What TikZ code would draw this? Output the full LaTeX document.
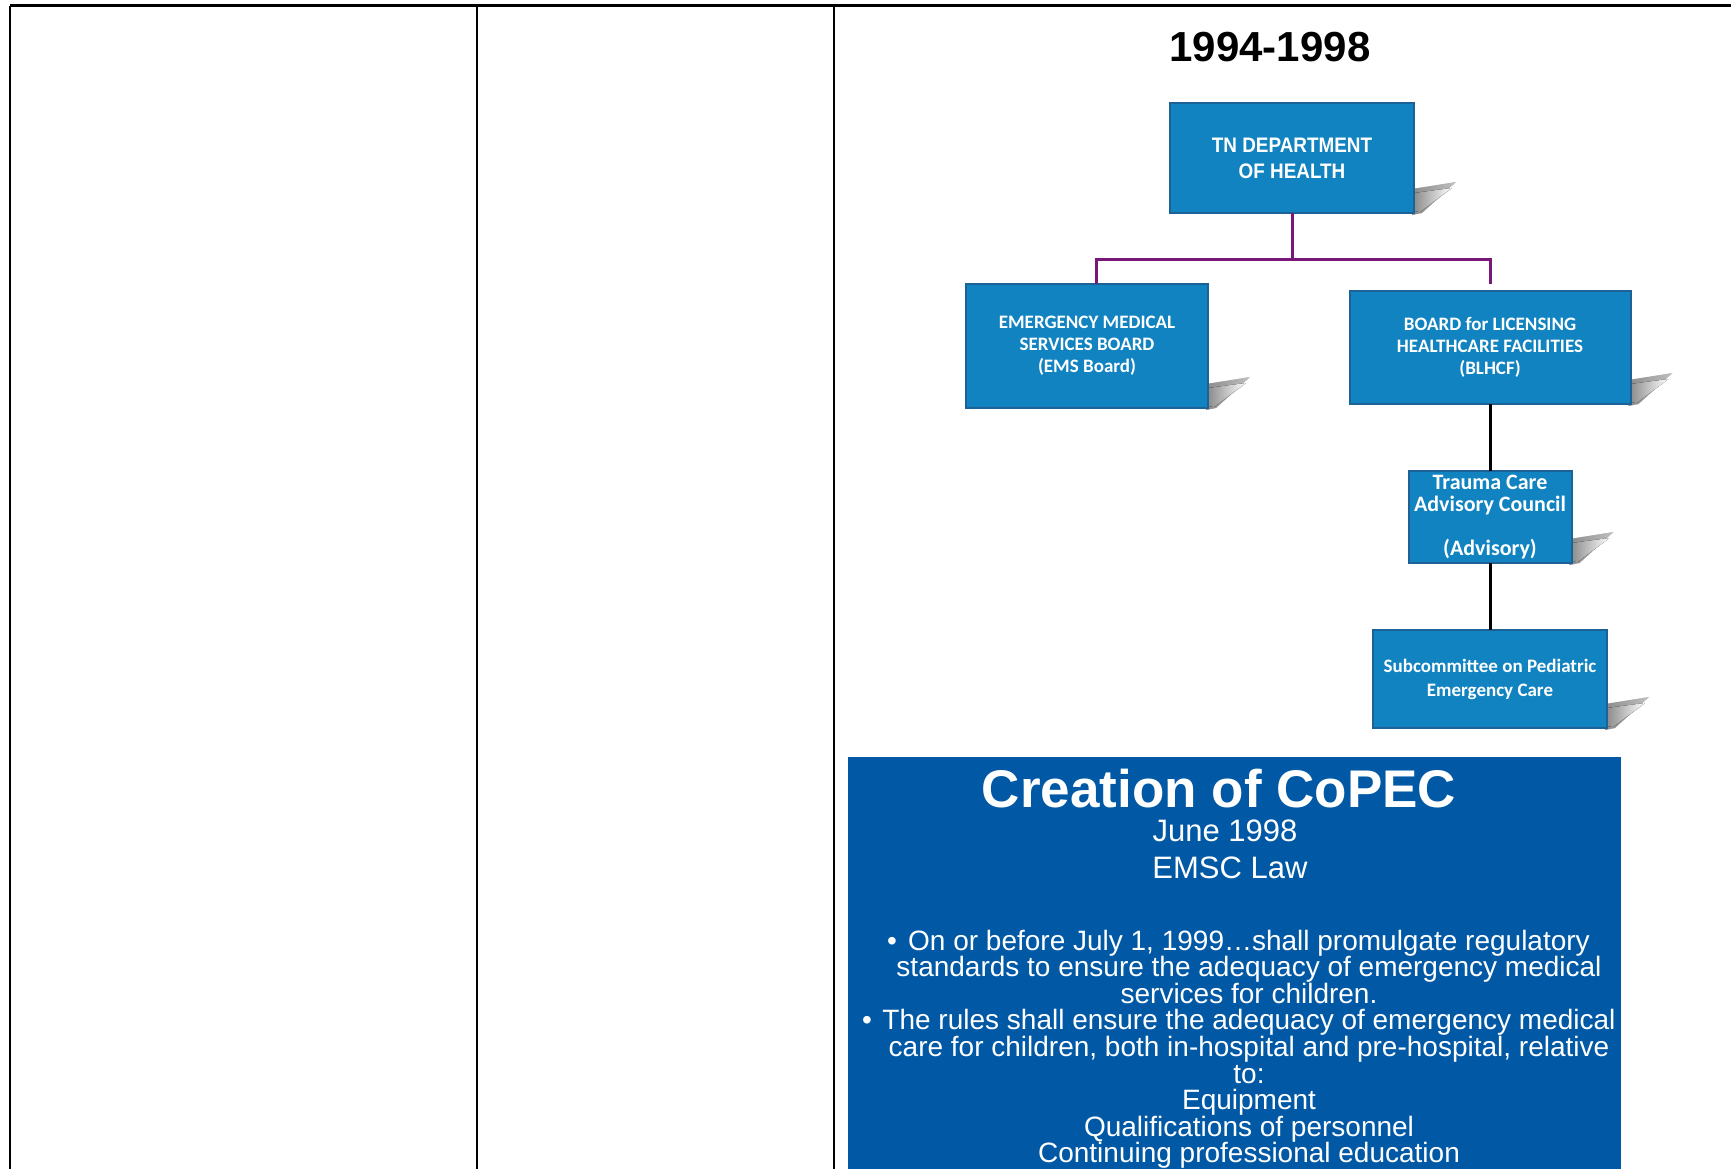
\documentclass[tikz,border=0pt]{standalone}
\usepackage{fontspec}
\setmainfont{Liberation Sans}
\newfontfamily\calfont{Carlito}
\newfontfamily\condfont{Liberation Sans}[FakeStretch=0.9]
\usetikzlibrary{backgrounds}
\definecolor{boxblue}{RGB}{17,131,193}
\definecolor{boxedge}{RGB}{28,98,150}
\definecolor{copec}{RGB}{1,89,166}
\definecolor{purp}{RGB}{122,24,122}
\newcommand\boxshadow[1]{%
  \fill[shadowpoly, opacity=0.45] ([shift={(-2,-2)}]#1.south east) -- ++(0,26) -- ++(44,7) -- ++(-34,-31) -- cycle;
  \fill[shadowpoly] ([yshift=2pt]#1.south east) -- ++(0,18) -- ++(38,5) -- ++(-32,-24) -- cycle;}
\begin{document}
\begin{tikzpicture}[x=1pt,y=1pt,
  orgbox/.style={draw=boxedge, line width=2pt, fill=boxblue, text=white, align=center, inner sep=0pt, outer sep=0pt},
  shadowpoly/.style={left color=black!45, right color=white, draw=none},
  tline/.style={line width=2.5pt, black},
  pline/.style={line width=3pt, purp},
  bline/.style={line width=3pt, black},
  wtext/.style={text=white, inner sep=0pt, anchor=base},
  body/.style={wtext, font=\fontsize{28}{30}\selectfont},
]
\useasboundingbox (0,0) rectangle (1731,-1168);
\clip (0,0) rectangle (1731,-1168);

% table rules
\draw[tline] (10,-5.5) -- (1731,-5.5);
\draw[tline] (10,-5.5) -- (10,-1170);
\draw[tline] (477,-5.5) -- (477,-1170);
\draw[tline] (834,-5.5) -- (834,-1170);

% heading
\node[inner sep=0pt, anchor=base, font=\bfseries\fontsize{42}{48}\selectfont] (yr) at (1270,-61) {1994-1998};

% org chart boxes
\node[orgbox, minimum width=244, minimum height=110, font=\condfont\bfseries\fontsize{21}{26}\selectfont] (tn) at (1292,-158) {TN DEPARTMENT\\OF HEALTH};
\node[orgbox, minimum width=242, minimum height=124, font=\calfont\bfseries\fontsize{19}{22}\selectfont] (ems) at (1087,-346) {EMERGENCY MEDICAL\\SERVICES BOARD\\(EMS Board)};
\node[orgbox, minimum width=281, minimum height=113, font=\calfont\bfseries\fontsize{19}{22}\selectfont] (bl) at (1490,-347.5) {BOARD for LICENSING\\HEALTHCARE FACILITIES\\(BLHCF)};
\node[orgbox, minimum width=163, minimum height=92, font=\calfont\bfseries\fontsize{22}{22}\selectfont] (tr) at (1490,-517) {Trauma Care\\Advisory Council\\[22pt](Advisory)};
\node[orgbox, minimum width=234, minimum height=98, font=\calfont\bfseries\fontsize{19}{24}\selectfont] (sub) at (1490,-679) {Subcommittee on Pediatric\\Emergency Care};

\begin{scope}[on background layer]
\boxshadow{tn}
\boxshadow{ems}
\boxshadow{bl}
\boxshadow{tr}
\boxshadow{sub}
\end{scope}

% connectors
\draw[pline] (tn.south) -- ++(0,-46) coordinate (bus);
\draw[pline] ([xshift=9pt]ems.north) |- (bus) -| ([yshift=7pt]bl.north);
\draw[bline] (bl.south) -- (tr.north);
\draw[bline] (tr.south) -- (sub.north);

% CoPEC panel
\node[fill=copec, inner sep=0pt, anchor=north west, minimum width=773, minimum height=430] (panel) at (848,-757) {};
\node[wtext, font=\bfseries\fontsize{53}{60}\selectfont] (title) at (1219,-807) {Creation of CoPEC};
\node[wtext, font=\fontsize{31}{36}\selectfont] (date) at (1225,-841) {June 1998};
\node[wtext, font=\fontsize{31}{36}\selectfont] (law) at (1230,-878) {EMSC Law};

\node[body] (b1) at (1249,-950) {On or before July 1, 1999…shall promulgate regulatory};
\node[body] (b1dot) at (892,-950) {•};
\node[body] (b2) at (1249,-976.6) {standards to ensure the adequacy of emergency medical};
\node[body] (b3) at (1249,-1003.2) {services for children.};
\node[body] (b4) at (1249,-1029.8) {The rules shall ensure the adequacy of emergency medical};
\node[body] (b4dot) at (867,-1029.8) {•};
\node[body] (b5) at (1249,-1056.4) {care for children, both in-hospital and pre-hospital, relative};
\node[body] (b6) at (1249,-1083) {to:};
\node[body] (b7) at (1249,-1109.6) {Equipment};
\node[body] (b8) at (1249,-1136.2) {Qualifications of personnel};
\node[body] (b9) at (1249,-1162.8) {Continuing professional education};
\end{tikzpicture}
\end{document}
